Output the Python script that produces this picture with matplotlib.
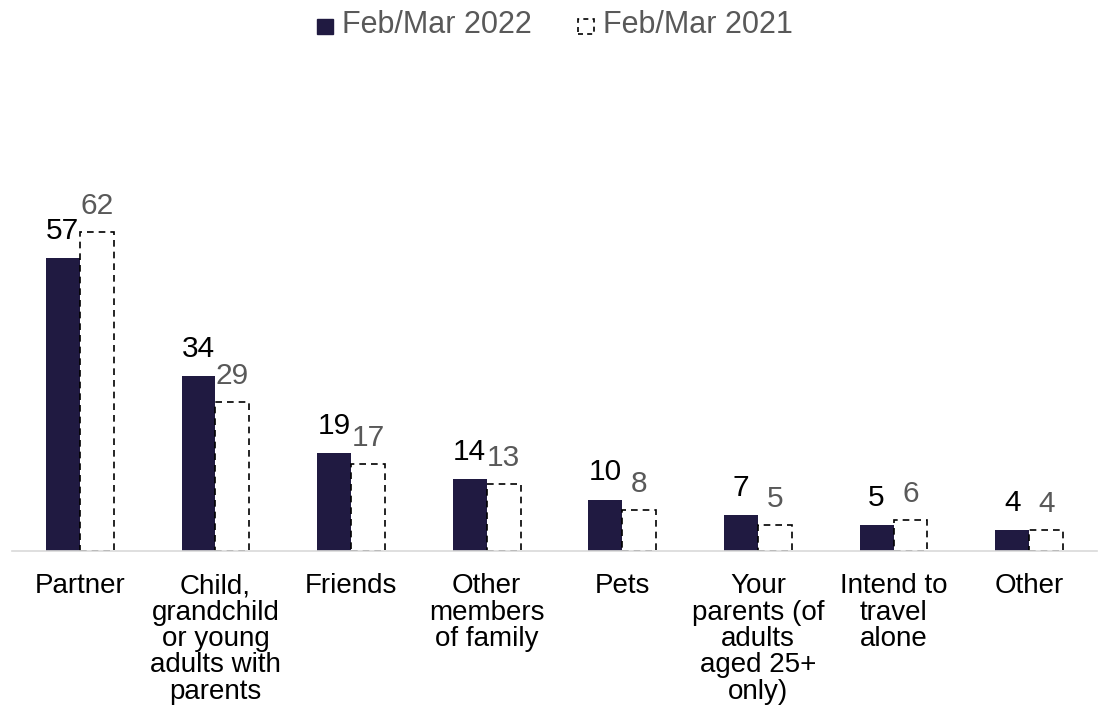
import matplotlib
matplotlib.use("Agg")
import matplotlib.pyplot as plt
from matplotlib.patches import Patch, Rectangle
from matplotlib.legend_handler import HandlerPatch
import numpy as np

plt.rcParams['font.family'] = ['Liberation Sans', 'DejaVu Sans']

categories = ["Partner", "Child,\ngrandchild\nor young\nadults with\nparents", "Friends",
              "Other\nmembers\nof family", "Pets", "Your\nparents (of\nadults\naged 25+\nonly)",
              "Intend to\ntravel\nalone", "Other"]
series_2022 = [57, 34, 19, 14, 10, 7, 5, 4]
series_2021 = [62, 29, 17, 13, 8, 5, 6, 4]
labels = ["Feb/Mar 2022", "Feb/Mar 2021"]


class SquareHandler(HandlerPatch):
    def create_artists(self, legend, orig_handle, xdescent, ydescent, width, height,
                       fontsize, trans):
        s = width
        p = Rectangle((-xdescent, -1), s, s)
        self.update_prop(p, orig_handle, legend)
        p.set_transform(trans)
        return [p]


W, H = 1099, 727
fig = plt.figure(figsize=(W / 100, H / 100), dpi=100)
left, right, base, top = 12, 1097, 551, 80
ax = fig.add_axes([left / W, (H - base) / H, (right - left) / W, (base - top) / H])

dark = "#201A41"
gray = "#595959"
x = np.arange(len(categories))
bw = 0.25
ax.bar(x - bw / 2, series_2022, bw, color=dark, zorder=2)
ax.bar(x + bw / 2, series_2021, bw, facecolor="white", edgecolor="black",
       linestyle=(0, (4, 3)), linewidth=1.2, zorder=2)

for xi, v in zip(x, series_2022):
    ax.annotate(str(v), (xi - bw / 2, v), xytext=(0, 14), textcoords="offset points",
                ha="center", va="baseline", fontsize=21.5, color="black")
for xi, v in zip(x, series_2021):
    ax.annotate(str(v), (xi + bw / 2, v), xytext=(0, 13), textcoords="offset points",
                ha="center", va="baseline", fontsize=21.5, color=gray)

ax.set_xlim(-0.5, len(categories) - 0.5)
ax.set_ylim(0, (base - top) / 5.14)
ax.set_yticks([])
ax.set_xticks(x)
ax.set_xticklabels(categories, fontsize=20, color="black", va="top", linespacing=1.02)
ax.tick_params(axis="x", length=0, pad=16)
for s in ["top", "right", "left"]:
    ax.spines[s].set_visible(False)
ax.spines["bottom"].set_color("#D9D9D9")
ax.spines["bottom"].set_linewidth(1.2)
ax.spines["bottom"].set_zorder(3)

handles = [Patch(facecolor=dark, edgecolor=dark),
           Patch(facecolor="white", edgecolor="black", linestyle=(0, (3, 2.5)), linewidth=1.2)]
fig.legend(handles, labels, loc="center", bbox_to_anchor=(555 / W, 1 - 25 / H), ncol=2,
           frameon=False, fontsize=22, labelcolor=gray, handlelength=0.52, handleheight=0.7,
           handletextpad=0.3, columnspacing=1.5,
           handler_map={Patch: SquareHandler()})

fig.savefig("out.png", dpi=100)
